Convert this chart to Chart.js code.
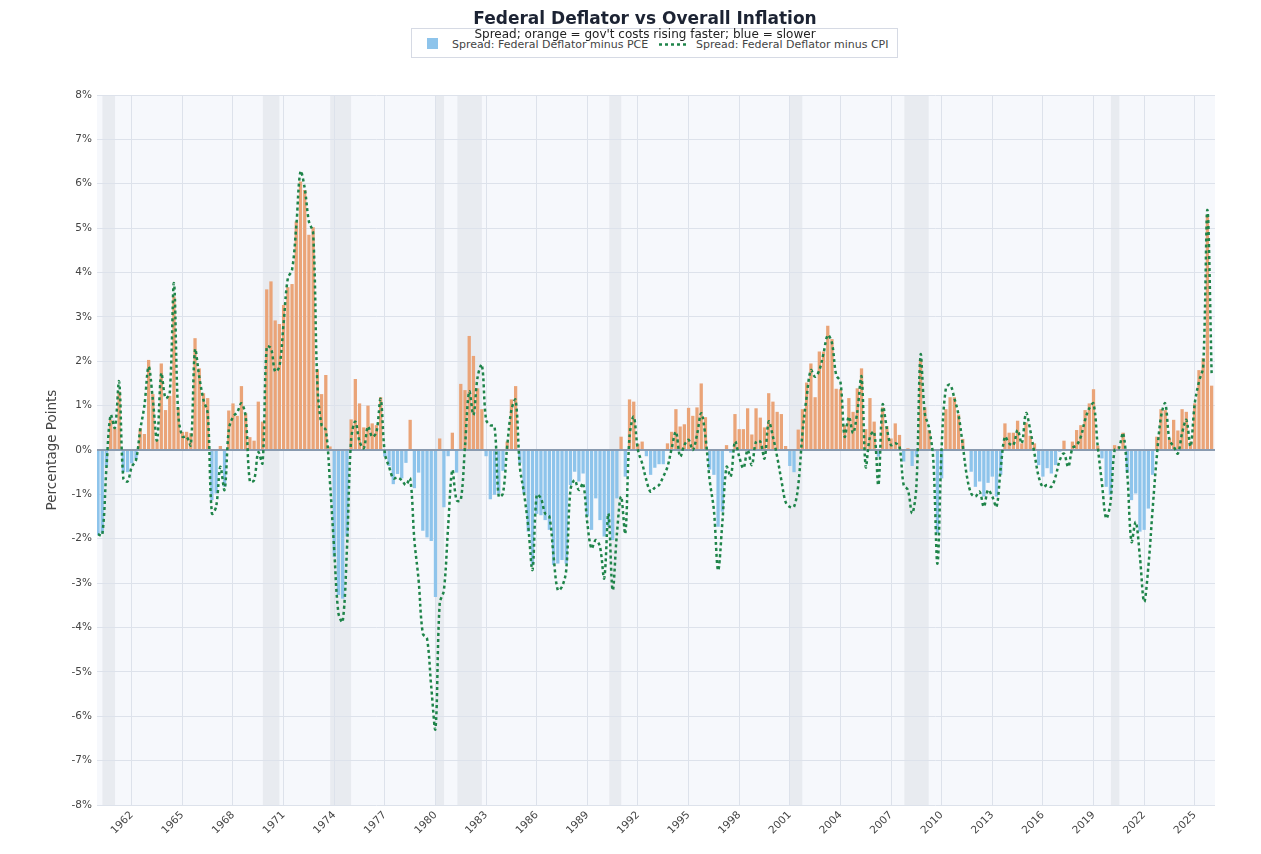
<!DOCTYPE html>
<html>
<head>
<meta charset="utf-8">
<script src="https://cdn.jsdelivr.net/npm/chart.js@4.4.1/dist/chart.umd.min.js"></script>
<style>
html,body{margin:0;padding:0;background:#ffffff;}
#wrap{position:relative;width:1261px;height:854px;overflow:hidden;font-family:'DejaVu Sans',Verdana,sans-serif;}
#chart{position:absolute;left:0;top:0;}
#title{position:absolute;top:10px;left:645px;transform:translateX(-50%);font-size:17px;font-weight:bold;line-height:17px;color:#1c2333;white-space:nowrap;z-index:3;}
#subtitle{position:absolute;top:28px;left:645px;transform:translateX(-50%);font-size:12px;line-height:13px;color:#222;white-space:nowrap;z-index:3;}
#legendbox{position:absolute;left:411px;top:28px;width:485px;height:28px;border:1px solid #d6dae4;background:#fff;z-index:1;}
.lg{position:absolute;font-size:11px;line-height:11px;color:#444;white-space:nowrap;z-index:2;}
#sw1{position:absolute;left:427px;top:38px;width:11px;height:11px;background:rgb(142,196,235);z-index:2;}
#sw2{position:absolute;left:658px;top:42px;z-index:2;}
</style>
</head>
<body>
<div id="wrap">
  <canvas id="chart" width="1261" height="854"></canvas>
  <div id="legendbox"></div>
  <div id="sw1"></div>
  <div class="lg" style="left:452px;top:39px;">Spread: Federal Deflator minus PCE</div>
  <svg id="sw2" width="32" height="5"><line x1="1" y1="2.5" x2="31" y2="2.5" stroke="#1e8449" stroke-width="2.5" stroke-dasharray="3,3"/></svg>
  <div class="lg" style="left:696px;top:39px;">Spread: Federal Deflator minus CPI</div>
  <div id="title">Federal Deflator vs Overall Inflation</div>
  <div id="subtitle">Spread; orange = gov't costs rising faster; blue = slower</div>
</div>
<script>
// ---- data (quarterly, first quarter = 1960 Q1) ----
const startYear = 1960;

// Federal deflator minus PCE inflation (percentage points), bars
const pceSpread = [
  -1.92,-1.88,-0.38,0.68,0.49,1.32,-0.5,-0.5,-0.3,-0.21,
  0.49,0.36,2.03,1.26,0.23,1.95,0.9,1.22,3.46,0.96,
  0.41,0.41,0.38,2.52,1.84,1.28,1.17,-1.13,-0.98,0.09,
  -0.83,0.89,1.05,0.77,1.44,0.83,0.29,0.21,1.09,0.64,
  3.62,3.8,2.92,2.84,3.27,3.67,3.74,5.15,6.05,5.86,
  4.85,5.02,1.82,1.26,1.69,0.08,-2.41,-3.27,-3.35,-1.95,
  0.69,1.6,1.05,0.51,1.0,0.6,0.56,1.19,-0.15,-0.36,
  -0.77,-0.54,-0.64,-0.29,0.68,-0.86,-0.51,-1.82,-1.97,-2.05,
  -3.31,0.26,-1.29,-0.14,0.39,-0.51,1.49,1.35,2.57,2.12,
  1.39,0.92,-0.14,-1.11,-1.01,-0.98,-0.47,0.19,1.14,1.44,
  -0.3,-0.98,-1.84,-2.6,-1.44,-1.47,-1.58,-1.8,-2.59,-2.56,
  -2.48,-2.56,-0.79,-0.49,-0.71,-0.53,-1.5,-1.8,-1.09,-1.58,
  -1.95,-1.73,-2.03,-1.09,0.3,-0.6,1.14,1.09,0.14,0.19,
  -0.14,-0.56,-0.4,-0.32,-0.32,0.15,0.41,0.92,0.53,0.58,
  0.95,0.77,0.96,1.5,0.74,-0.44,-0.56,-1.73,-1.39,0.11,
  -0.06,0.81,0.47,0.47,0.94,0.35,0.94,0.73,0.51,1.28,
  1.09,0.86,0.81,0.09,-0.36,-0.5,0.46,0.92,1.52,1.95,
  1.19,2.22,2.22,2.8,2.5,1.38,1.37,0.56,1.17,0.86,
  1.39,1.84,0.47,1.17,0.64,-0.15,0.96,0.54,0.26,0.6,
  0.34,-0.26,0.04,-0.36,-0.15,2.03,0.96,0.45,-0.03,-1.88,
  -0.64,0.92,1.19,1.19,0.8,0.25,-0.02,-0.49,-0.83,-0.71,
  -1.05,-0.74,-0.6,-1.05,-0.56,0.6,0.39,0.39,0.66,0.15,
  0.62,0.32,0.15,-0.34,-0.6,-0.41,-0.53,-0.34,-0.04,0.21,
  -0.02,0.19,0.45,0.56,0.9,1.05,1.37,0.1,-0.19,-0.83,
  -1.01,0.11,0.09,0.39,-0.51,-1.13,-0.98,-1.84,-1.8,-1.32,
  -0.56,0.3,0.92,0.9,0.26,0.68,0.44,0.92,0.86,0.19,
  1.05,1.8,2.07,5.3,1.45
];

// Federal deflator minus CPI inflation (percentage points), dotted line
const cpiSpread = [
  -1.9,-1.92,-0.4,0.79,0.5,1.54,-0.64,-0.71,-0.38,-0.23,
  0.45,1.0,1.88,1.13,0.22,1.73,1.17,1.28,3.76,0.83,
  0.3,0.3,0.11,2.26,1.65,1.13,0.83,-1.43,-1.28,-0.38,
  -0.9,0.45,0.75,0.85,1.05,0.75,-0.71,-0.68,-0.05,-0.3,
  2.33,2.29,1.77,1.88,2.86,3.87,4.06,5.04,6.28,5.9,
  5.15,4.89,1.5,0.56,0.45,-0.75,-2.26,-3.68,-3.87,-2.26,
  0.23,0.64,0.19,0.04,0.53,0.3,0.4,1.15,-0.08,-0.38,
  -0.64,-0.62,-0.68,-0.79,-0.64,-2.03,-2.93,-4.14,-4.25,-5.34,
  -6.28,-3.46,-3.16,-1.73,-0.45,-1.13,-1.13,0.08,1.32,0.79,
  1.65,1.92,0.68,0.56,0.53,-1.05,-0.98,0.08,0.9,1.13,
  -0.38,-0.98,-1.73,-2.7,-1.01,-1.09,-1.43,-1.5,-2.4,-3.16,
  -3.08,-2.7,-0.9,-0.68,-0.9,-0.75,-1.65,-2.22,-2.03,-2.18,
  -2.89,-1.43,-3.16,-1.9,-1.05,-1.88,0.3,0.75,0.0,-0.3,
  -0.68,-0.94,-0.85,-0.79,-0.6,-0.38,0.04,0.41,-0.15,0.11,
  0.23,0.0,0.34,0.83,0.3,-0.68,-1.35,-2.71,-1.65,-0.38,
  -0.6,0.19,-0.15,-0.41,0.0,-0.34,0.19,0.19,-0.19,0.64,
  0.3,-0.15,-0.68,-1.17,-1.28,-1.28,-0.8,0.38,1.2,1.8,
  1.65,1.8,2.18,2.59,2.41,1.69,1.54,0.3,0.75,0.38,
  0.86,1.65,-0.38,0.3,0.41,-0.79,1.02,0.49,0.11,0.15,
  0.08,-0.79,-0.9,-1.43,-0.83,2.14,0.83,0.5,-0.2,-2.56,
  0.08,1.39,1.47,1.17,0.79,0.11,-0.6,-0.98,-1.05,-0.94,
  -1.28,-0.9,-1.05,-1.28,-0.41,0.3,0.15,0.11,0.45,0.15,
  0.83,0.45,-0.08,-0.6,-0.83,-0.79,-0.83,-0.6,-0.23,-0.08,
  -0.38,0.04,0.11,0.3,0.68,0.94,1.05,0.08,-0.75,-1.54,
  -1.2,0.0,0.04,0.38,-0.53,-2.07,-1.62,-2.41,-3.42,-2.63,
  -1.35,-0.15,0.75,1.05,0.23,0.08,-0.08,0.38,0.68,0.08,
  1.05,1.54,1.88,5.41,1.73
];

// quarter positions (decimal years) for each observation
const quarterTimes = pceSpread.map((_, i) => startYear + i / 4);

// x-axis tick years and y-axis tick values (%)
const tickYears = [1962,1965,1968,1971,1974,1977,1980,1983,1986,1989,1992,1995,1998,2001,2004,2007,2010,2013,2016,2019,2022,2025];
const yTickValues = [-8,-7,-6,-5,-4,-3,-2,-1,0,1,2,3,4,5,6,7,8];

// shaded recession periods (decimal years)
const recessionStarts = [1960.26,1969.77,1973.76,1979.98,1981.30,1990.30,2000.97,2007.79,2020.03];
const recessionEnds   = [1961.01,1970.75,1975.00,1980.51,1982.75,1991.01,2001.74,2009.23,2020.53];

// ---- styling ----
const ORANGE = 'rgb(234,164,120)';
const BLUE = 'rgb(142,196,235)';
const GREEN = '#1e8449';
const FONT = "'DejaVu Sans', Verdana, sans-serif";

const bgPlugin = {
  id: 'plotBg',
  beforeDraw(chart) {
    const {ctx, chartArea: a, scales: {x}} = chart;
    ctx.save();
    ctx.fillStyle = '#f6f8fc';
    ctx.fillRect(a.left, a.top, a.right - a.left, a.bottom - a.top);
    ctx.fillStyle = '#e8ebf0';
    for (let k = 0; k < recessionStarts.length; k++) {
      const x0 = Math.max(a.left, x.getPixelForValue(recessionStarts[k]));
      const x1 = Math.min(a.right, x.getPixelForValue(recessionEnds[k]));
      ctx.fillRect(x0, a.top, x1 - x0, a.bottom - a.top);
    }
    ctx.restore();
  }
};

Chart.defaults.font.family = FONT;
Chart.defaults.color = '#444';

new Chart(document.getElementById('chart'), {
  type: 'bar',
  data: {
    datasets: [
      {
        type: 'line',
        label: 'Spread: Federal Deflator minus CPI',
        data: quarterTimes.map((t, i) => ({x: t, y: cpiSpread[i]})),
        borderColor: GREEN,
        borderWidth: 2.5,
        borderDash: [3, 3],
        pointRadius: 0,
        tension: 0.35,
        fill: false,
        order: 0
      },
      {
        type: 'bar',
        label: 'Spread: Federal Deflator minus PCE',
        data: quarterTimes.map((t, i) => ({x: t, y: pceSpread[i]})),
        backgroundColor: c => (c.raw && c.raw.y >= 0) ? ORANGE : BLUE,
        borderWidth: 0,
        barPercentage: 1.0,
        categoryPercentage: 0.78,
        order: 1
      }
    ]
  },
  options: {
    responsive: false,
    animation: false,
    devicePixelRatio: 1,
    layout: {padding: {left: 40, right: 46, top: 95, bottom: 0}},
    plugins: {legend: {display: false}, tooltip: {enabled: false}, title: {display: false}},
    scales: {
      x: {
        type: 'linear',
        min: 1959.94,
        max: 2026.2,
        offset: false,
        afterBuildTicks: axis => { axis.ticks = tickYears.map(v => ({value: v})); },
        afterFit: s => { s.height = 49; },
        grid: {color: '#dde2eb', lineWidth: 1, drawTicks: false, offset: false},
        border: {display: false},
        ticks: {
          autoSkip: false, minRotation: 45, maxRotation: 45, padding: 4,
          font: {size: 10.5}, color: '#444',
          callback: v => String(v)
        }
      },
      y: {
        min: -8,
        max: 8,
        afterBuildTicks: axis => { axis.ticks = yTickValues.map(v => ({value: v})); },
        afterFit: s => { s.width = 57; },
        grid: {
          drawTicks: false,
          color: c => (c.tick && c.tick.value === 0) ? '#8a9bb0' : '#dde2eb',
          lineWidth: c => (c.tick && c.tick.value === 0) ? 2 : 1
        },
        border: {display: false},
        ticks: {padding: 5, font: {size: 10.5}, color: '#444', callback: v => v + '%'},
        title: {display: true, text: 'Percentage Points', font: {size: 13.5}, color: '#444', padding: {top: 4, bottom: 0}}
      }
    }
  },
  plugins: [bgPlugin]
});
</script>
</body>
</html>
